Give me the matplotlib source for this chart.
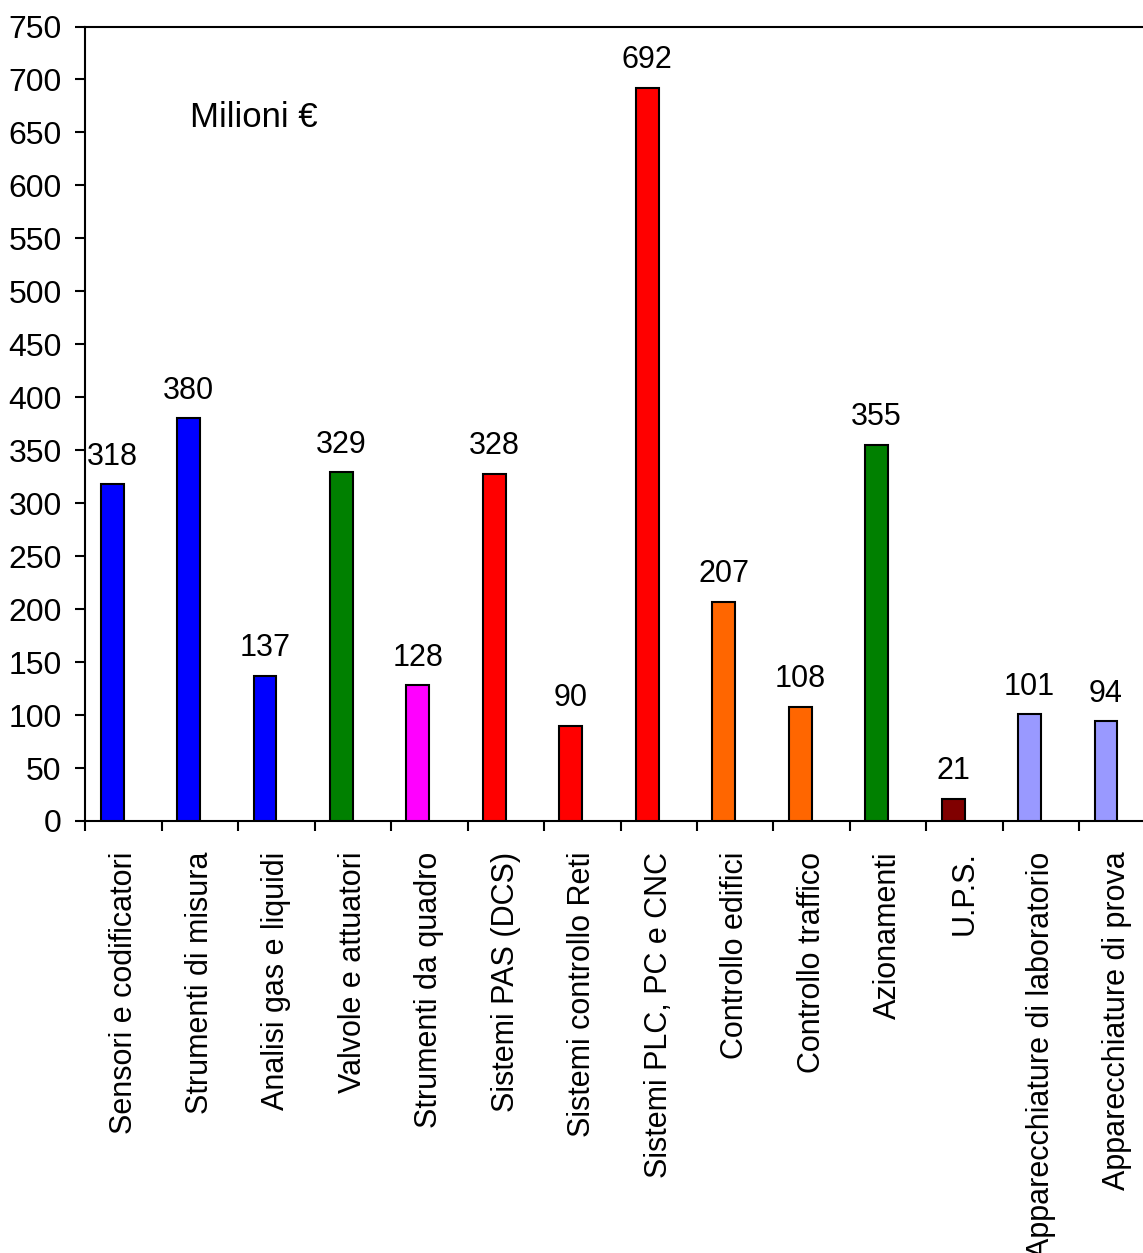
import matplotlib
matplotlib.use("Agg")
import matplotlib.pyplot as plt
import numpy as np

plt.rcParams['font.family'] = ['Liberation Sans', 'DejaVu Sans']

categories = [
    "Sensori e codificatori",
    "Strumenti di misura",
    "Analisi gas e liquidi",
    "Valvole e attuatori",
    "Strumenti da quadro",
    "Sistemi PAS (DCS)",
    "Sistemi controllo Reti",
    "Sistemi PLC, PC e CNC",
    "Controllo edifici",
    "Controllo traffico",
    "Azionamenti",
    "U.P.S.",
    "Apparecchiature di laboratorio",
    "Apparecchiature di prova",
]
values = [318, 380, 137, 329, 128, 328, 90, 692, 207, 108, 355, 21, 101, 94]
colors = [
    "#0000FF", "#0000FF", "#0000FF", "#008000", "#FF00FF", "#FF0000", "#FF0000",
    "#FF0000", "#FF6600", "#FF6600", "#008000", "#800000", "#9999FF", "#9999FF",
]
yticks = list(range(0, 751, 50))

W, H = 1143, 1253
fig = plt.figure(figsize=(W / 100, H / 100), dpi=100)
left, right, top, bottom = 85.3, 1155.7, 26.5, 821
ax = fig.add_axes([left / W, 1 - bottom / H, (right - left) / W, (bottom - top) / H])

n = len(categories)
x = np.arange(n)
bar_w = 0.3
ax.bar(x + 0.5 - bar_w / 2, values, width=bar_w, color=colors,
       edgecolor="black", linewidth=1.5, zorder=3)

for xi, v in zip(x, values):
    ax.annotate(str(v), (xi + 0.5 - bar_w / 2, v), xytext=(0, 9),
                textcoords="offset points", ha="center", va="bottom",
                fontsize=22)

ax.set_xlim(0, n)
ax.set_ylim(0, 750)
ax.set_yticks(yticks)
ax.set_yticklabels([str(t) for t in yticks], fontsize=23)
ax.set_xticks(np.arange(n + 1))
ax.set_xticklabels([])
ax.set_xticks(x + 0.5, minor=True)
ax.set_xticklabels(categories, minor=True, rotation=90, ha="center", va="top",
                   fontsize=22)
ax.tick_params(axis="x", which="minor", length=0, pad=22)
ax.tick_params(axis="x", which="major", length=7, width=1.5, direction="out")
ax.tick_params(axis="y", length=7, width=1.5, direction="out", pad=10)

for side in ["left", "bottom", "top", "right"]:
    ax.spines[side].set_linewidth(1.5)

ax.text(2.2, 655, "Milioni €", fontsize=25, ha="center", va="baseline")

fig.savefig("out.png", dpi=100)
